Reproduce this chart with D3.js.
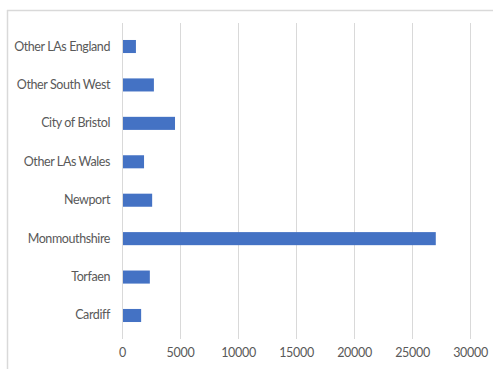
<!DOCTYPE html>
<html>
<head>
<meta charset="utf-8">
<script src="https://cdn.jsdelivr.net/npm/d3@7"></script>
<style>
  html, body { margin: 0; padding: 0; background: #fff; }
  svg { display: block; }
</style>
</head>
<body>
<svg id="chart" width="493" height="369"></svg>
<script>
const categories = ["Other LAs England", "Other South West", "City of Bristol", "Other LAs Wales", "Newport", "Monmouthshire", "Torfaen", "Cardiff"];
const values = [1200, 2750, 4570, 1900, 2600, 27050, 2400, 1650];
const tickValues = [0, 5000, 10000, 15000, 20000, 25000, 30000];

const svg = d3.select("#chart");
const W = 493, H = 369;

// chart frame (top and left edges visible)
svg.append("line").attr("x1", 7).attr("x2", W).attr("y1", 10.5).attr("y2", 10.5)
  .attr("stroke", "#d9d9d9").attr("stroke-width", 1.5);
svg.append("line").attr("x1", 7.5).attr("x2", 7.5).attr("y1", 10).attr("y2", H)
  .attr("stroke", "#d9d9d9").attr("stroke-width", 1.5);

const x = d3.scaleLinear().domain([0, 30000]).range([122, 470]);
const y = d3.scaleBand().domain(categories).range([27.3, 334.7]).paddingInner(0.66).paddingOuter(0.33);

// gridlines
svg.append("g").selectAll("line").data(tickValues).join("line")
  .attr("x1", d => Math.round(x(d)) + 0.5).attr("x2", d => Math.round(x(d)) + 0.5)
  .attr("y1", 23).attr("y2", 339)
  .attr("stroke", "#d9d9d9").attr("stroke-width", 1);

// bars
svg.append("g").selectAll("rect").data(categories).join("rect")
  .attr("x", x(0) + 1)
  .attr("y", d => y(d))
  .attr("width", (d, i) => x(values[i]) - x(0) - 1)
  .attr("height", y.bandwidth())
  .attr("fill", "#4472C4");

const fontFam = "Lato, 'Liberation Sans', sans-serif";

// x axis labels
const xAxis = d3.axisBottom(x).tickValues(tickValues).tickSize(0).tickPadding(0).tickFormat(d3.format("d"));
const gx = svg.append("g").attr("transform", "translate(0,348)").call(xAxis);
gx.select(".domain").remove();
gx.selectAll("text").attr("fill", "#595959").style("font-family", fontFam).style("font-size", "12.5px").style("letter-spacing", "-0.3px");

// y axis labels
const yAxis = d3.axisLeft(y).tickSize(0).tickPadding(0);
const gy = svg.append("g").attr("transform", "translate(110,0)").call(yAxis);
gy.select(".domain").remove();
gy.selectAll("text").attr("fill", "#595959").style("font-family", fontFam).style("font-size", "12.5px").style("letter-spacing", "-0.4px");
</script>
</body>
</html>
